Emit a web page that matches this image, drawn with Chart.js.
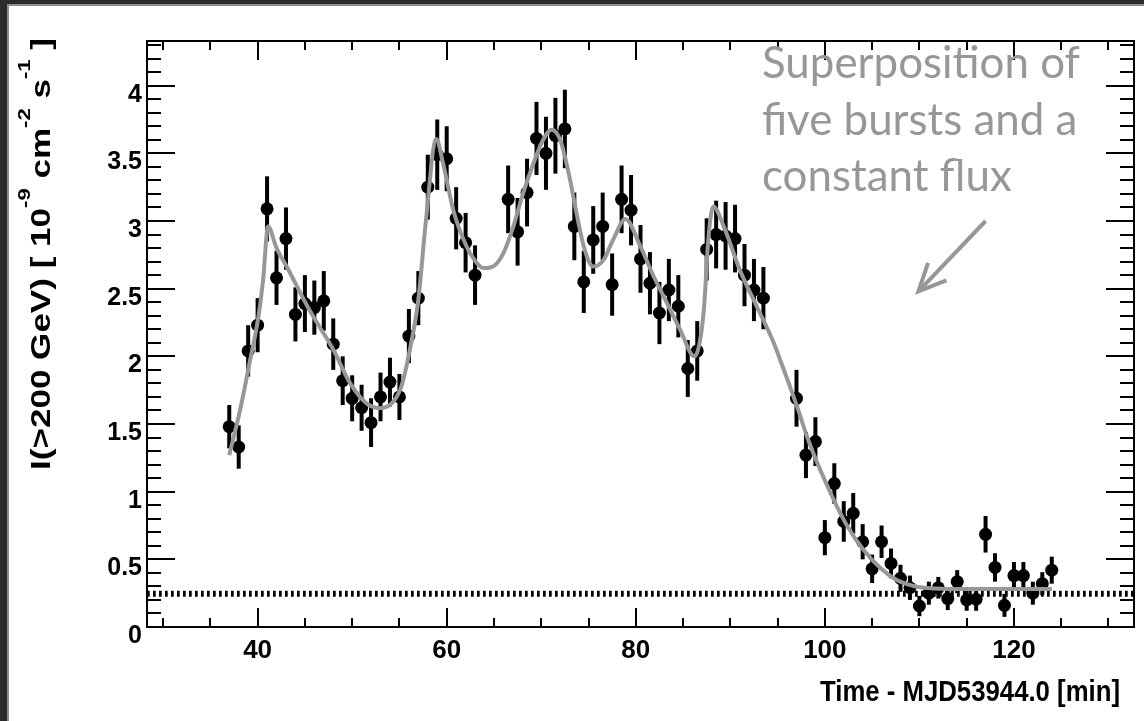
<!DOCTYPE html>
<html>
<head>
<meta charset="utf-8">
<script src="https://cdn.jsdelivr.net/npm/chart.js@4.4.1/dist/chart.umd.min.js"></script>
<style>
  html, body { margin: 0; padding: 0; background: #2c2c2c; overflow: hidden; }
  canvas { display: block; }
</style>
</head>
<body>
<canvas id="lc" width="1144" height="721"></canvas>
<script>
// Integral flux above 200 GeV in 1-minute bins (three observation runs)
const timeMin = [
  37, 38, 39, 40, 41, 42, 43, 44, 45, 46, 47, 48, 49, 50, 51, 52, 53, 54, 55, 56, 57, 58, 59, 60, 61, 62, 63,
  66.5, 67.5, 68.5, 69.5, 70.5, 71.5, 72.5, 73.5, 74.5, 75.5, 76.5, 77.5, 78.5, 79.5, 80.5, 81.5, 82.5, 83.5,
  84.5, 85.5, 86.5, 87.5, 88.5, 89.5, 90.5, 91.5, 92.5, 93.5,
  97, 98, 99, 100, 101, 102, 103, 104, 105, 106, 107, 108, 109, 110, 111, 112, 113, 114, 115, 116, 117, 118,
  119, 120, 121, 122, 123, 124
];
const flux = [
  1.48, 1.33, 2.04, 2.23, 3.09, 2.58, 2.87, 2.31, 2.39, 2.36, 2.41, 2.09, 1.82, 1.69, 1.62, 1.51, 1.70, 1.81,
  1.70, 2.15, 2.43, 3.25, 3.49, 3.46, 3.02, 2.84, 2.60,
  3.16, 2.92, 3.21, 3.61, 3.50, 3.63, 3.68, 2.96, 2.55, 2.86, 2.96, 2.53, 3.16, 3.08, 2.72, 2.54, 2.32, 2.49,
  2.37, 1.91, 2.04, 2.79, 2.90, 2.89, 2.87, 2.60, 2.49, 2.43,
  1.69, 1.27, 1.37, 0.66, 1.06, 0.78, 0.84, 0.63, 0.43, 0.63, 0.47, 0.36, 0.29, 0.155, 0.25, 0.29, 0.21,
  0.335, 0.20, 0.205, 0.685, 0.44, 0.16, 0.38, 0.38, 0.25, 0.32, 0.42
];
const fluxErr = [
  0.16, 0.16, 0.19, 0.20, 0.24, 0.20, 0.23, 0.20, 0.21, 0.20, 0.22, 0.19, 0.18, 0.17, 0.17, 0.18, 0.18, 0.18,
  0.17, 0.20, 0.20, 0.24, 0.26, 0.24, 0.23, 0.22, 0.22,
  0.25, 0.25, 0.25, 0.27, 0.27, 0.28, 0.29, 0.25, 0.23, 0.25, 0.25, 0.23, 0.25, 0.26, 0.25, 0.23, 0.23, 0.23,
  0.23, 0.21, 0.22, 0.23, 0.25, 0.25, 0.25, 0.23, 0.23, 0.23,
  0.21, 0.17, 0.18, 0.13, 0.15, 0.15, 0.15, 0.13, 0.105, 0.12, 0.11, 0.10, 0.09, 0.075, 0.085, 0.08, 0.085,
  0.085, 0.08, 0.085, 0.135, 0.105, 0.085, 0.10, 0.10, 0.085, 0.085, 0.10
];

// Fitted model (five bursts on top of a constant), sampled along the curve
const modelTime = [
  37.0, 38.2, 39.2, 40.1, 40.6, 41.1, 42.0, 43.1, 45.5, 48.0, 49.8, 51.5, 52.9, 54.2, 55.2, 56.1, 57.0, 57.8,
  58.9, 59.6, 60.7, 61.8, 62.8, 63.9, 64.9, 66.0, 67.05, 68.1, 69.2, 70.2, 71.1, 72.0, 72.9, 73.8, 74.6, 75.5,
  76.6, 77.6, 78.9, 80.5, 81.9, 83.3, 84.7, 86.2, 86.7, 87.2, 87.7, 88.2, 89.3, 91.0, 92.8, 94.6, 95.5, 96.4,
  97.2, 98.0, 98.8, 100.6, 102.3, 104.1, 105.9, 107.6, 109.4, 111.1, 114.0, 124.0
];
const modelFlux = [
  1.27, 1.62, 1.97, 2.30, 2.58, 2.96, 2.80, 2.66, 2.34, 2.05, 1.80, 1.654, 1.617, 1.654, 1.777, 2.048, 2.418, 3.0,
  3.606, 3.43, 3.08, 2.86, 2.726, 2.652, 2.664, 2.763, 2.96, 3.207, 3.43, 3.60, 3.675, 3.60, 3.354, 3.034, 2.787, 2.664,
  2.713, 2.861, 3.014, 2.81, 2.59, 2.393, 2.196, 2.0, 2.08, 2.344, 2.886, 3.108, 2.96, 2.64, 2.368, 2.098, 1.93, 1.76,
  1.60, 1.43, 1.28, 0.99, 0.754, 0.569, 0.434, 0.348, 0.303, 0.286, 0.28, 0.28
];
const constFlux = 0.246;

// Axis ticks and labels
const xTickLabels = [40, 60, 80, 100, 120];
const yTickLabels = [0, 0.5, 1, 1.5, 2, 2.5, 3, 3.5, 4];
const xTitle = 'Time - MJD53944.0 [min]';
const yTitleParts = [
  { text: 'I(>200 GeV) [ 10', sup: false },
  { text: '-9', sup: true },
  { text: ' cm', sup: false },
  { text: '-2', sup: true },
  { text: ' s', sup: false },
  { text: '-1', sup: true },
  { text: ' ]', sup: false }
];
const noteLines = ['Superposition of', 'five bursts and a', 'constant flux'];

const X_MIN = 28.3, X_MAX = 132.7, Y_MIN = 0, Y_MAX = 4.33;
const AXIS_FONT = '"Liberation Sans", Arial, sans-serif';
const GREY = '#979797';

// Page frame behind the plot
const backdrop = {
  id: 'backdrop',
  beforeDraw(chart) {
    const { ctx, width, height } = chart;
    ctx.save();
    ctx.fillStyle = '#2b2b2b';
    ctx.fillRect(0, 0, width, height);
    ctx.fillStyle = '#8d8d8d';
    ctx.fillRect(7, 4, width - 7, height - 4);
    ctx.fillStyle = '#ffffff';
    ctx.fillRect(9, 6, width - 9, height - 6);
    ctx.restore();
  }
};

// Vertical error bars under the markers
const errorBars = {
  id: 'errorBars',
  beforeDatasetsDraw(chart) {
    const { ctx, chartArea: a, scales: { x, y } } = chart;
    ctx.save();
    ctx.beginPath();
    ctx.rect(a.left, a.top, a.right - a.left, a.bottom - a.top);
    ctx.clip();
    ctx.strokeStyle = '#000';
    ctx.lineWidth = 4;
    ctx.lineCap = 'butt';
    timeMin.forEach((t, i) => {
      const px = x.getPixelForValue(t);
      ctx.beginPath();
      ctx.moveTo(px, y.getPixelForValue(flux[i] - fluxErr[i]));
      ctx.lineTo(px, y.getPixelForValue(flux[i] + fluxErr[i]));
      ctx.stroke();
    });
    ctx.restore();
  }
};

// Frame with inward ticks on all four sides, axis titles and the note
const frameAndText = {
  id: 'frameAndText',
  afterDraw(chart) {
    const { ctx, chartArea: a, scales: { x, y } } = chart;
    ctx.save();
    ctx.strokeStyle = '#000';
    ctx.lineWidth = 2;
    ctx.strokeRect(a.left, a.top, a.right - a.left, a.bottom - a.top);

    ctx.beginPath();
    for (let k = 0; k <= 100; k++) {
      const v = k / 10;
      if (v > Y_MAX) break;
      const len = (k % 5 === 0) ? 28 : 14;
      const py = Math.round(y.getPixelForValue(v));
      ctx.moveTo(a.left, py); ctx.lineTo(a.left + len, py);
      ctx.moveTo(a.right, py); ctx.lineTo(a.right - len, py);
    }
    for (let t = 30; t <= 130; t += 5) {
      const len = (t % 20 === 0) ? 19 : 9;
      const px = Math.round(x.getPixelForValue(t));
      ctx.moveTo(px, a.bottom); ctx.lineTo(px, a.bottom - len);
      ctx.moveTo(px, a.top); ctx.lineTo(px, a.top + len);
    }
    ctx.stroke();

    // x title, right-aligned under the axis
    ctx.fillStyle = '#000';
    ctx.font = 'bold 30px ' + AXIS_FONT;
    ctx.textBaseline = 'alphabetic';
    ctx.textAlign = 'left';
    const titleW = ctx.measureText(xTitle).width;
    const titleSpan = 300;
    ctx.save();
    ctx.translate(a.right - 14 - titleSpan, 701);
    ctx.scale(titleSpan / titleW, 1);
    ctx.fillText(xTitle, 0, 0);
    ctx.restore();

    // y title, rotated, with superscripts
    const mainFont = 'bold 27px ' + AXIS_FONT;
    const supFont = 'bold 17px ' + AXIS_FONT;
    let total = 0;
    const widths = yTitleParts.map(p => {
      ctx.font = p.sup ? supFont : mainFont;
      const w = ctx.measureText(p.text).width;
      total += w;
      return w;
    });
    const span = 432;
    const stretch = span / total;
    ctx.save();
    ctx.translate(50, 470);
    ctx.rotate(-Math.PI / 2);
    ctx.scale(stretch, 1);
    let pos = 0;
    yTitleParts.forEach((p, i) => {
      ctx.font = p.sup ? supFont : mainFont;
      ctx.fillText(p.text, pos, p.sup ? -20 : 0);
      pos += widths[i];
    });
    ctx.restore();

    // annotation with arrow
    ctx.fillStyle = GREY;
    ctx.font = '44px Lato, "Open Sans", sans-serif';
    const sx = 318 / ctx.measureText(noteLines[0]).width;
    const baseX = 762;
    const baseY = [78, 135, 191];
    noteLines.forEach((line, i) => {
      ctx.save();
      ctx.translate(baseX, baseY[i]);
      ctx.scale(sx, 1);
      ctx.fillText(line, 0, 0);
      ctx.restore();
    });

    const tail = { x: x.getPixelForValue(117.0), y: y.getPixelForValue(3.0) };
    const tip = { x: x.getPixelForValue(109.9), y: y.getPixelForValue(2.48) };
    const ang = Math.atan2(tail.y - tip.y, tail.x - tip.x);
    const head = 30, spread = 25 * Math.PI / 180;
    ctx.strokeStyle = GREY;
    ctx.lineWidth = 4;
    ctx.lineJoin = 'miter';
    ctx.beginPath();
    ctx.moveTo(tail.x, tail.y);
    ctx.lineTo(tip.x, tip.y);
    ctx.moveTo(tip.x + head * Math.cos(ang - spread), tip.y + head * Math.sin(ang - spread));
    ctx.lineTo(tip.x, tip.y);
    ctx.lineTo(tip.x + head * Math.cos(ang + spread), tip.y + head * Math.sin(ang + spread));
    ctx.stroke();
    ctx.restore();
  }
};

const chart = new Chart(document.getElementById('lc'), {
  type: 'scatter',
  data: {
    datasets: [
      {
        label: 'model',
        data: modelTime.map((t, i) => ({ x: t, y: modelFlux[i] })),
        showLine: true,
        borderColor: GREY,
        borderWidth: 4,
        pointRadius: 0,
        cubicInterpolationMode: 'monotone',
        order: 0
      },
      {
        label: 'constant',
        data: [{ x: X_MIN, y: constFlux }, { x: X_MAX, y: constFlux }],
        showLine: true,
        borderColor: '#000',
        borderWidth: 6,
        borderDash: [2.7, 3.3],
        borderCapStyle: 'butt',
        pointRadius: 0,
        order: 1
      },
      {
        label: 'flux',
        data: timeMin.map((t, i) => ({ x: t, y: flux[i] })),
        backgroundColor: '#000',
        borderWidth: 0,
        pointRadius: 6.5,
        pointStyle: 'circle',
        order: 2
      }
    ]
  },
  options: {
    responsive: false,
    animation: false,
    events: [],
    layout: { padding: { left: 0, top: 41, right: 10, bottom: 0 } },
    plugins: { legend: { display: false }, tooltip: { enabled: false } },
    scales: {
      x: {
        type: 'linear',
        min: X_MIN,
        max: X_MAX,
        grid: { display: false, drawTicks: false },
        border: { display: false },
        afterBuildTicks: s => { s.ticks = xTickLabels.map(v => ({ value: v })); },
        afterFit: s => { s.height = 94; },
        ticks: {
          color: '#000',
          padding: 8,
          maxRotation: 0,
          font: { family: AXIS_FONT, weight: 'bold', size: 26 },
          callback: v => String(v)
        }
      },
      y: {
        type: 'linear',
        min: Y_MIN,
        max: Y_MAX,
        grid: { display: false, drawTicks: false },
        border: { display: false },
        afterBuildTicks: s => { s.ticks = yTickLabels.map(v => ({ value: v })); },
        afterFit: s => { s.width = 147; },
        ticks: {
          color: '#000',
          padding: 5,
          labelOffset: 9,
          font: { family: AXIS_FONT, weight: 'bold', size: 25 },
          callback: v => String(v)
        }
      }
    }
  },
  plugins: [backdrop, errorBars, frameAndText]
});
</script>
</body>
</html>
